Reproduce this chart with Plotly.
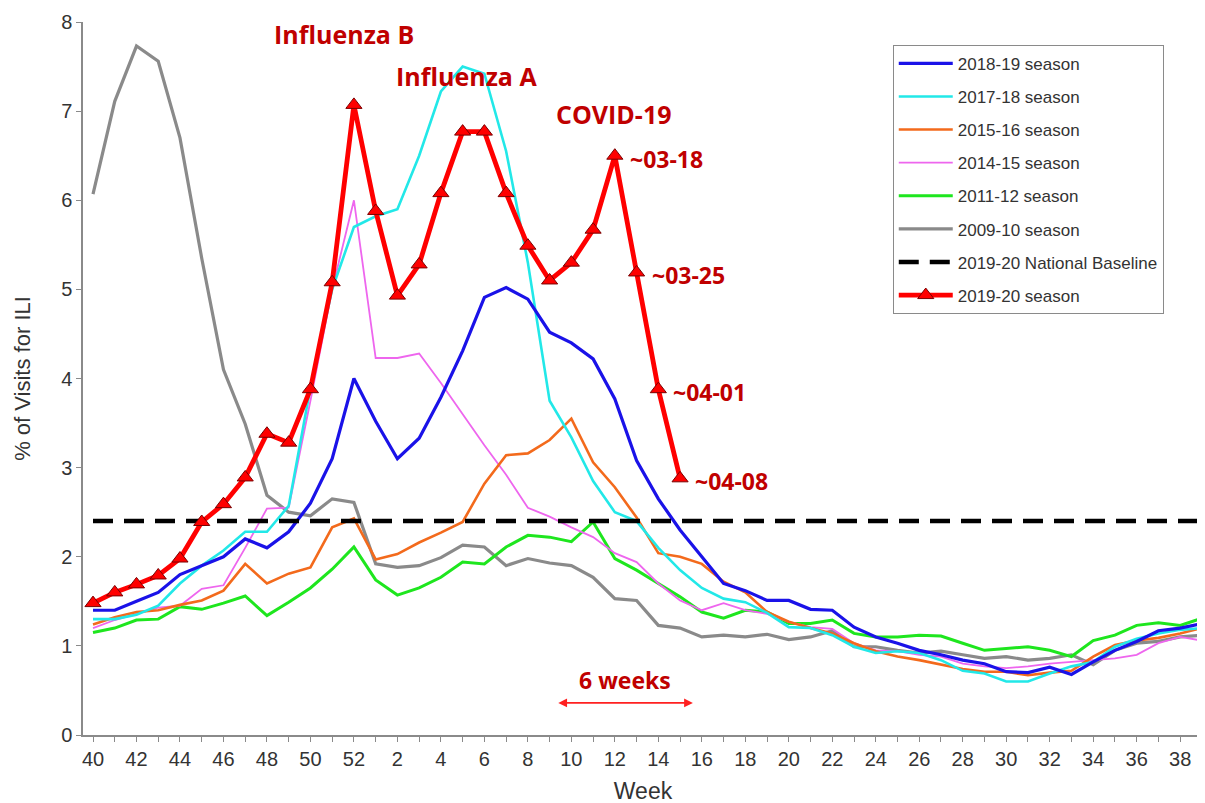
import plotly.graph_objects as go

# ---------------- data ----------------
weeks = list(range(40, 53)) + list(range(1, 40))
week_labels = [str(w) for w in weeks]

s2018_19 = [1.40, 1.40, 1.50, 1.60, 1.80, 1.90, 2.00, 2.20, 2.10, 2.28, 2.60, 3.10, 4.00,
            3.52, 3.10, 3.33, 3.79, 4.31, 4.91, 5.02, 4.89, 4.52, 4.40, 4.22, 3.77, 3.08, 2.65,
            2.30, 2.00, 1.70, 1.62, 1.51, 1.51, 1.41, 1.40, 1.21, 1.10, 1.03, 0.95, 0.90, 0.84,
            0.80, 0.71, 0.70, 0.76, 0.68, 0.82, 0.95, 1.05, 1.17, 1.20, 1.25]
s2017_18 = [1.30, 1.30, 1.35, 1.45, 1.70, 1.90, 2.07, 2.28, 2.28, 2.57, 3.90, 5.00, 5.70,
            5.82, 5.90, 6.50, 7.22, 7.50, 7.42, 6.55, 5.30, 3.75, 3.34, 2.85, 2.50, 2.40, 2.10,
            1.85, 1.65, 1.53, 1.49, 1.37, 1.21, 1.20, 1.12, 0.99, 0.92, 0.94, 0.92, 0.84, 0.72,
            0.69, 0.60, 0.60, 0.69, 0.77, 0.82, 0.99, 1.08, 1.14, 1.18, 1.20]
s2015_16 = [1.24, 1.32, 1.38, 1.40, 1.46, 1.51, 1.62, 1.92, 1.70, 1.81, 1.88, 2.33, 2.43,
            1.97, 2.03, 2.16, 2.27, 2.39, 2.82, 3.14, 3.16, 3.31, 3.55, 3.06, 2.78, 2.44, 2.04,
            2.00, 1.92, 1.72, 1.60, 1.38, 1.27, 1.20, 1.14, 1.03, 0.94, 0.88, 0.84, 0.79, 0.74,
            0.71, 0.71, 0.67, 0.70, 0.72, 0.88, 1.01, 1.06, 1.09, 1.14, 1.20]
s2014_15 = [1.20, 1.29, 1.36, 1.43, 1.45, 1.64, 1.68, 2.10, 2.54, 2.55, 3.75, 5.00, 6.00,
            4.23, 4.23, 4.28, 3.95, 3.60, 3.25, 2.92, 2.55, 2.45, 2.33, 2.22, 2.04, 1.94, 1.70,
            1.51, 1.40, 1.48, 1.40, 1.36, 1.27, 1.21, 1.19, 1.03, 0.95, 0.94, 0.90, 0.88, 0.80,
            0.77, 0.75, 0.77, 0.80, 0.82, 0.84, 0.86, 0.90, 1.03, 1.10, 1.06]
s2011_12 = [1.15, 1.20, 1.29, 1.30, 1.44, 1.41, 1.48, 1.56, 1.34, 1.49, 1.65, 1.86, 2.11,
            1.74, 1.57, 1.65, 1.77, 1.94, 1.92, 2.11, 2.24, 2.22, 2.17, 2.39, 1.98, 1.85, 1.70,
            1.55, 1.38, 1.31, 1.40, 1.38, 1.25, 1.25, 1.29, 1.14, 1.10, 1.10, 1.12, 1.11, 1.03,
            0.95, 0.97, 0.99, 0.95, 0.88, 1.06, 1.12, 1.23, 1.26, 1.23, 1.31]
s2009_10 = [6.07, 7.11, 7.73, 7.56, 6.70, 5.35, 4.10, 3.49, 2.69, 2.50, 2.46, 2.65, 2.61,
            1.92, 1.88, 1.90, 1.99, 2.13, 2.11, 1.90, 1.98, 1.93, 1.90, 1.77, 1.53, 1.51, 1.23,
            1.20, 1.10, 1.12, 1.10, 1.13, 1.07, 1.10, 1.17, 0.99, 0.99, 0.95, 0.92, 0.94, 0.90,
            0.86, 0.88, 0.84, 0.86, 0.90, 0.79, 0.95, 1.03, 1.05, 1.10, 1.12]
s2019_20 = [1.48, 1.60, 1.69, 1.79, 1.98, 2.39, 2.59, 2.89, 3.38, 3.28, 3.88, 5.08, 7.07,
            5.88, 4.93, 5.28, 6.08, 6.77, 6.77, 6.08, 5.49, 5.10, 5.30, 5.67, 6.50, 5.19, 3.88,
            2.88]
baseline = 2.4

date_labels = ["~03-18", "~03-25", "~04-01", "~04-08"]
date_label_first_idx = 24  # week 12

x_all = list(range(len(weeks)))

# ---------------- figure ----------------
fig = go.Figure()

series = [
    ("2009-10 season", s2009_10, "#8a8a8a", 3.2, 6),
    ("2011-12 season", s2011_12, "#1ee61e", 3.0, 5),
    ("2014-15 season", s2014_15, "#ee66ee", 1.8, 4),
    ("2015-16 season", s2015_16, "#f36a1c", 2.6, 3),
    ("2017-18 season", s2017_18, "#22e8e8", 2.6, 2),
    ("2018-19 season", s2018_19, "#1a12e8", 3.2, 1),
]
for name, vals, col, w, rank in series:
    fig.add_trace(go.Scatter(
        x=x_all[:len(vals)], y=vals, mode="lines", name=name,
        line=dict(color=col, width=w), legendrank=rank, legendgroup=name))

fig.add_trace(go.Scatter(
    x=[x_all[0], x_all[-1]], y=[baseline, baseline], mode="lines",
    name="2019-20 National Baseline", line=dict(color="black", width=4.5, dash="20px,11px"),
    legendrank=7, legendgroup="base"))

fig.add_trace(go.Scatter(
    x=x_all[:len(s2019_20)], y=s2019_20, mode="lines+markers", name="2019-20 season",
    line=dict(color="#ff0000", width=4.8),
    marker=dict(symbol="triangle-up", size=14, color="#ff0000",
                line=dict(color="#7a0000", width=1)),
    legendrank=8, legendgroup="red"))

ann_font = dict(family="Open Sans, Lato, sans-serif", color="#c00000")
annotations = []
# Peak labels
for text, xi, yv in [("Influenza B", 11.54, 7.86), ("Influenza A", 17.2, 7.39), ("COVID-19", 23.96, 6.97)]:
    annotations.append(dict(x=xi, y=yv, text="<b>%s</b>" % text, showarrow=False,
                            xanchor="center", yanchor="middle", font=dict(size=25, **ann_font)))
# Date labels next to the last four red points
for k, lab in enumerate(date_labels):
    i = date_label_first_idx + k
    annotations.append(dict(x=x_all[i], y=s2019_20[i], text="<b>%s</b>" % lab, showarrow=False,
                            xanchor="left", yanchor="middle", xshift=13, yshift=-3,
                            font=dict(size=23, **ann_font)))
# 6 weeks arrow
annotations.append(dict(x=27.59, y=0.36, ax=21.33, ay=0.36, axref="x", ayref="y",
                        xref="x", yref="y", text="", showarrow=True,
                        arrowhead=2, arrowside="end+start", arrowsize=1.1, arrowwidth=1.6,
                        arrowcolor="#ff2020"))
annotations.append(dict(x=24.46, y=0.62, text="<b>6 weeks</b>", showarrow=False,
                        xanchor="center", yanchor="middle", font=dict(size=23, **ann_font)))

tickvals = x_all
ticktext = [lab if i % 2 == 0 else "" for i, lab in enumerate(week_labels)]

axis_font = dict(family="Liberation Sans, Arial, sans-serif", size=20, color="#333333")

fig.update_layout(
    width=1205, height=803,
    margin=dict(l=75, r=10, t=14, b=76),
    paper_bgcolor="white", plot_bgcolor="white",
    showlegend=True,
    legend=dict(x=0.723, y=0.968, xanchor="left", yanchor="top",
                bordercolor="#8a8a8a", borderwidth=1, bgcolor="white",
                font=dict(family="Liberation Sans, Arial, sans-serif", size=17, color="#333333"),
                tracegroupgap=8, itemwidth=54),
    annotations=annotations,
    xaxis=dict(range=[-0.46, 51.05], tickmode="array", tickvals=tickvals, ticktext=ticktext,
               automargin=False,
               showgrid=False, zeroline=False, showline=True, linecolor="#8a8a8a", linewidth=1.5,
               ticks="outside", ticklen=5, tickcolor="#8a8a8a", tickfont=axis_font,
               title=dict(text="Week", font=dict(family="Liberation Sans, Arial, sans-serif",
                                                  size=23, color="#333333"), standoff=14)),
    yaxis=dict(range=[0, 8], tickmode="linear", tick0=0, dtick=1,
               automargin=False,
               showgrid=False, zeroline=False, showline=True, linecolor="#8a8a8a", linewidth=1.5,
               ticks="outside", ticklen=5, tickcolor="#8a8a8a", tickfont=axis_font,
               title=dict(text="% of Visits for ILI", font=dict(family="Liberation Sans, Arial, sans-serif",
                                                               size=22, color="#333333"), standoff=24)),
)

fig.write_html("out.html")
